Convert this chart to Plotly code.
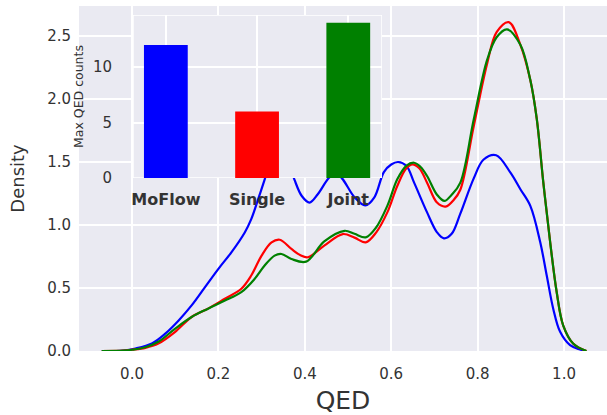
import plotly.graph_objects as go

# ---------------- data ----------------
moflow_x = [-0.07, -0.02, 0.008, 0.046, 0.077, 0.108, 0.138, 0.169, 0.2, 0.23, 0.261, 0.276, 0.292,
            0.307, 0.325, 0.342, 0.36, 0.376, 0.393, 0.411, 0.43, 0.455, 0.47, 0.486, 0.515, 0.54,
            0.561, 0.583, 0.60, 0.616, 0.635, 0.653, 0.683, 0.706, 0.722, 0.74, 0.76, 0.791, 0.814,
            0.843, 0.876, 0.899, 0.922, 0.945, 0.96, 0.975, 0.991, 1.014, 1.037, 1.05]
moflow_y = [0.0, 0.004, 0.02, 0.06, 0.138, 0.243, 0.362, 0.507, 0.652, 0.783, 0.941, 1.047, 1.205,
            1.36, 1.55, 1.62, 1.52, 1.36, 1.23, 1.178, 1.244, 1.37, 1.41, 1.37, 1.22, 1.155,
            1.22, 1.42, 1.48, 1.50, 1.47, 1.336, 1.10, 0.942, 0.894, 0.93, 1.09, 1.37, 1.52,
            1.554, 1.415, 1.284, 1.152, 0.863, 0.599, 0.336, 0.152, 0.046, 0.012, 0.0]

single_x = [-0.07, -0.02, 0.0, 0.031, 0.061, 0.1, 0.138, 0.176, 0.215, 0.253, 0.276, 0.30, 0.323,
            0.342, 0.369, 0.39, 0.407, 0.445, 0.488, 0.515, 0.541, 0.565, 0.591, 0.614, 0.635,
            0.649, 0.665, 0.683, 0.706, 0.726, 0.745, 0.76, 0.791, 0.822, 0.844, 0.872, 0.899,
            0.922, 0.937, 0.952, 0.968, 0.983, 0.998, 1.021, 1.052]
single_y = [0.0, 0.003, 0.01, 0.025, 0.059, 0.152, 0.27, 0.336, 0.415, 0.494, 0.599, 0.757, 0.862,
            0.883, 0.81, 0.76, 0.744, 0.836, 0.928, 0.90, 0.862, 0.94, 1.10, 1.31, 1.45,
            1.481, 1.45, 1.336, 1.178, 1.146, 1.2, 1.28, 1.784, 2.28, 2.53, 2.61, 2.43,
            2.15, 1.84, 1.34, 0.862, 0.468, 0.204, 0.06, 0.0]

joint_x = [-0.07, -0.02, 0.0, 0.031, 0.061, 0.1, 0.138, 0.176, 0.215, 0.253, 0.284, 0.307, 0.330,
           0.346, 0.369, 0.403, 0.445, 0.492, 0.515, 0.541, 0.565, 0.591, 0.614, 0.635, 0.653,
           0.668, 0.683, 0.706, 0.723, 0.74, 0.76, 0.791, 0.822, 0.844, 0.868, 0.899, 0.922,
           0.937, 0.952, 0.968, 0.983, 0.998, 1.021, 1.052]
joint_y = [0.0, 0.003, 0.01, 0.03, 0.073, 0.178, 0.27, 0.336, 0.40, 0.467, 0.573, 0.678, 0.757,
           0.770, 0.73, 0.709, 0.87, 0.954, 0.93, 0.902, 0.98, 1.152, 1.363, 1.47, 1.494,
           1.46, 1.389, 1.24, 1.191, 1.24, 1.336, 1.837, 2.31, 2.49, 2.553, 2.43, 2.15,
           1.84, 1.34, 0.862, 0.468, 0.204, 0.06, 0.0]

bar_categories = ["MoFlow", "Single", "Joint"]
bar_values = [12, 6, 14]
bar_colors = ["#0000FF", "#FF0000", "#008000"]

x_ticks = [0.0, 0.2, 0.4, 0.6, 0.8, 1.0]
y_ticks = [0.0, 0.5, 1.0, 1.5, 2.0, 2.5]
inset_y_ticks = [0, 5, 10]

# ---------------- figure ----------------
BG = "#EAEAF2"
TXT = "#333333"
FONT = "DejaVu Sans"

fig = go.Figure()
for xs, ys, col, name in [(moflow_x, moflow_y, "#0000FF", "MoFlow"),
                          (single_x, single_y, "#FF0000", "Single"),
                          (joint_x, joint_y, "#008000", "Joint")]:
    fig.add_trace(go.Scatter(x=xs, y=ys, mode="lines", name=name,
                             line=dict(color=col, width=2.2, shape="spline", smoothing=1.0),
                             xaxis="x", yaxis="y"))

fig.add_trace(go.Bar(x=bar_categories, y=bar_values, marker=dict(color=bar_colors, line=dict(width=0)),
                     width=0.48, xaxis="x2", yaxis="y2"))

inset_xr = [-0.36, 2.37]
inset_yr = [0, 14.7]

fig.add_shape(type="rect", xref="x2", yref="y2", x0=inset_xr[0], x1=inset_xr[1],
              y0=inset_yr[0], y1=inset_yr[1], layer="below",
              fillcolor=BG, line=dict(color="white", width=1.5))

fig.update_layout(
    template="none",
    width=607, height=415,
    margin=dict(l=79, r=0, t=6, b=64, autoexpand=False),
    paper_bgcolor="white", plot_bgcolor=BG,
    showlegend=False,
    font=dict(family=FONT, color=TXT, size=15),
    xaxis=dict(domain=[0, 1], range=[-0.1227, 1.0995], tickvals=x_ticks, tickformat=".1f",
               showgrid=True, gridcolor="white", gridwidth=1.5, zeroline=False, ticks="",
               ticklabelstandoff=12, tickfont=dict(size=15, color=TXT), automargin=False,
               title=dict(text="QED", font=dict(size=25, color=TXT), standoff=11),
               showline=False),
    yaxis=dict(domain=[0, 1], range=[0, 2.738], tickvals=y_ticks, tickformat=".1f",
               showgrid=True, gridcolor="white", gridwidth=1.5, zeroline=False, ticks="",
               ticklabelstandoff=7, tickfont=dict(size=15, color=TXT), automargin=False,
               title=dict(text="Density", font=dict(size=18, color=TXT), standoff=17),
               showline=False),
    xaxis2=dict(domain=[0.1023, 0.5739], anchor="y2", type="category", range=inset_xr,
                showgrid=True, gridcolor="white", gridwidth=1.5, zeroline=False, ticks="",
                ticklabelstandoff=10, tickfont=dict(size=16, color=TXT, weight="bold"),
                automargin=False, showline=False),
    yaxis2=dict(domain=[0.5014, 0.9739], anchor="x2", range=inset_yr, tickvals=inset_y_ticks,
                showgrid=True, gridcolor="white", gridwidth=1.5, zeroline=False, ticks="",
                ticklabelstandoff=20, tickfont=dict(size=15, color=TXT), automargin=False,
                title=dict(text="Max QED counts", font=dict(size=12.5, color=TXT), standoff=6),
                showline=False),
)

fig.write_html("out.html", config={"displayModeBar": False},
               post_script="document.body.style.margin='0';document.body.style.overflow='hidden';")
